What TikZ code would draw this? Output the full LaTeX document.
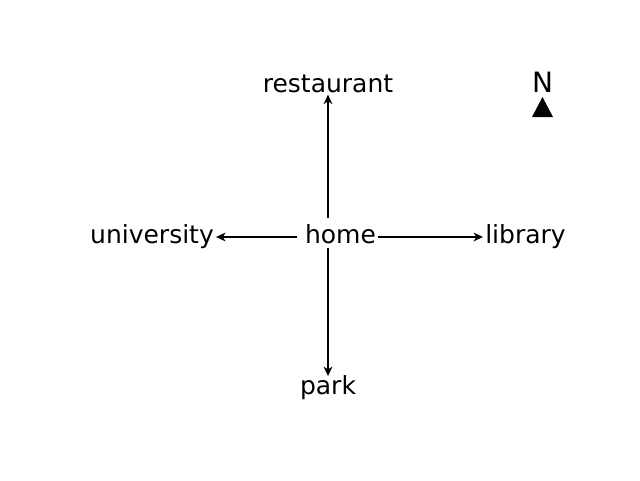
\documentclass[tikz,border=0pt]{standalone}
\usepackage{fontspec}
\setmainfont{DejaVu Sans}
\usepackage{tikz}
\usetikzlibrary{arrows.meta, positioning}
\definecolor{arrowblack}{RGB}{0,0,0}
\definecolor{textblack}{RGB}{0,0,0}
\tikzset{
  % Place label
  place/.style={
    anchor=base, inner sep=1.5pt,
    text=textblack, font=\fontsize{18.75}{22}\selectfont
  },
  % Arrow style
  arr/.style={
    -{Stealth[length=7pt, width=6.5pt, inset=2pt]}, color=arrowblack, line width=1.9pt
  },
}

\begin{document}
\begin{tikzpicture}[x=0.75pt, y=-0.75pt]
  \useasboundingbox (0,0) rectangle (640,480);
  \node[place] (home)       at (340.5,243) {home};
  \node[place] (restaurant) at (328,92)    {restaurant};
  \node[place] (park)       at (328,394)   {park};
  \node[place] (university) at (152,243)   {university};
  \node[place] (library)    at (525.5,243) {library};
  \node[place, font=\fontsize{21}{24}\selectfont] (north) at (542.5,92) {N};
  \fill[arrowblack] (532,117) -- (553,117) -- (542.5,97) -- cycle;

  \draw[arr, shorten <=3pt] (home.north -| restaurant.south) -- (restaurant.south);
  \draw[arr, shorten <=1.5pt, shorten >=-2.5pt] (home.south -| park.north) -- (park.north);
  \draw[arr, shorten <=4pt] ([yshift=4.5pt]home.base west) -- ([yshift=4.5pt]university.base east);
  \draw[arr] ([yshift=4.5pt]home.base east) -- ([yshift=4.5pt]library.base west);
\end{tikzpicture}
\end{document}
